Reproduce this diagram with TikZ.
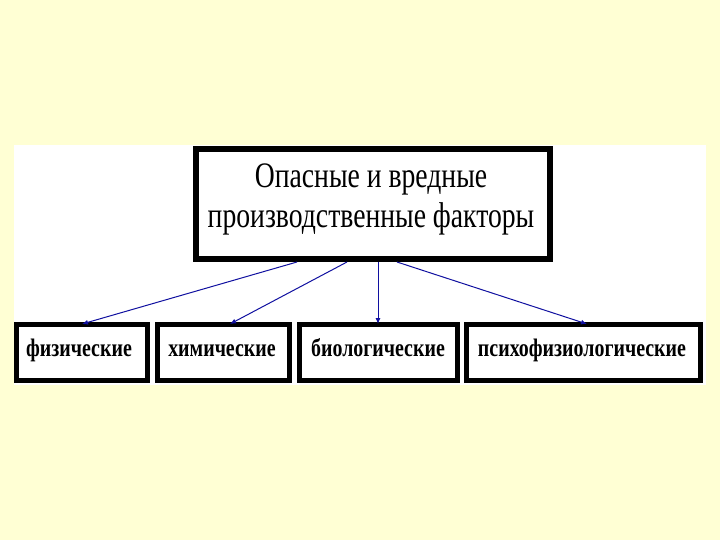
\documentclass[tikz,border=0pt]{standalone}
\usepackage{fontspec}
\setmainfont{Liberation Serif}
\usetikzlibrary{arrows.meta}
\definecolor{bgyellow}{HTML}{FFFFD4}
\definecolor{arrowblue}{HTML}{1010A0}
\tikzset{
  topbox/.style={draw=black, line width=6pt, fill=white, inner sep=0pt},
  lowbox/.style={draw=black, line width=5pt, fill=white, inner sep=0pt},
  conn/.style={draw=arrowblue, line width=1pt, -{Latex[length=6pt,width=5pt]}},
  toptext/.style={font=\fontsize{32}{36}\selectfont, anchor=base, inner sep=0pt},
  lowtext/.style={font=\bfseries\fontsize{24}{28}\selectfont, anchor=base, inner sep=0pt}
}
\newcommand{\narrowtop}[1]{\scalebox{0.865}[1.12]{#1}}
\newcommand{\narrowlow}[1]{\scalebox{0.83}[1.05]{#1}}
\begin{document}
\begin{tikzpicture}[x=1pt,y=-1pt]
\useasboundingbox (0,0) rectangle (720,540);
\fill[bgyellow] (0,0) rectangle (720,540);
\fill[white] (14,145) rectangle (706,385);
% top box
\node[topbox, minimum width=354pt, minimum height=110pt] (top) at (373,204) {};
\node[toptext] (toptxt1) at (371,188) {\narrowtop{Опасные и вредные}};
\node[toptext] (toptxt2) at (371,228) {\narrowtop{производственные факторы}};
% bottom boxes
\node[lowbox, minimum width=131pt, minimum height=56pt] (b1) at (82,352) {};
\node[lowbox, minimum width=132pt, minimum height=56pt] (b2) at (223,352) {};
\node[lowbox, minimum width=158pt, minimum height=56pt] (b3) at (378,352) {};
\node[lowbox, minimum width=234pt, minimum height=56pt] (b4) at (583,352) {};
\node[lowtext] (t1) at (79,356) {\narrowlow{физические}};
\node[lowtext] (t2) at (222,356) {\narrowlow{химические}};
\node[lowtext] (t3) at (378,356) {\narrowlow{биологические}};
\node[lowtext] (t4) at (582,356) {\narrowlow{психофизиологические}};
% connectors
\coordinate (s1) at (297,262);
\coordinate (s2) at (347,262);
\coordinate (s3) at (378,262);
\coordinate (s4) at (397,262);
\coordinate (e1) at (82,324);
\coordinate (e2) at (230,324);
\coordinate (e3) at (378,324);
\coordinate (e4) at (587,324);
\draw[conn] (s1) -- (e1);
\draw[conn] (s2) -- (e2);
\draw[conn] (s3) -- (e3);
\draw[conn] (s4) -- (e4);
\end{tikzpicture}
\end{document}
